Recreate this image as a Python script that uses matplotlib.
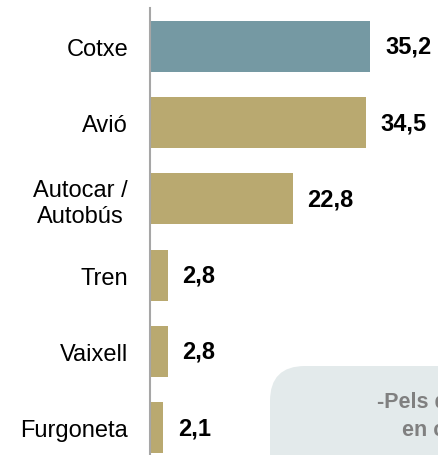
import matplotlib.pyplot as plt
from matplotlib.patches import FancyBboxPatch
from matplotlib.transforms import IdentityTransform

plt.rcParams['font.family'] = ['Liberation Sans', 'DejaVu Sans']

# dades
categories = ["Cotxe", "Avió", "Autocar /\nAutobús", "Tren", "Vaixell", "Furgoneta"]
values = [35.2, 34.5, 22.8, 2.8, 2.8, 2.1]
labels = ["35,2", "34,5", "22,8", "2,8", "2,8", "2,1"]
colors = ["#7599A3", "#B9A970", "#B9A970", "#B9A970", "#B9A970", "#B9A970"]
note_lines = ["-Pels desplaçaments", "en cotxe"]

W, H = 438, 456
fig = plt.figure(figsize=(W / 100, H / 100), dpi=100)
ax = fig.add_axes([150 / W, 0, 1 - 150 / W, 1 - 9 / H])
ax.patch.set_visible(False)

# caixa de nota (retallada a la vora), darrere del gràfic
box = FancyBboxPatch((270, -60), 260, 89 + 60,
                     boxstyle="round,pad=0,rounding_size=35",
                     transform=IdentityTransform(), facecolor="#E3EAEB",
                     edgecolor="none", zorder=-1)
fig.add_artist(box)
fig.text(377 / W, 48 / H, note_lines[0], fontsize=15.5, fontweight="bold",
         color="#808080", va="baseline", ha="left")
fig.text(402 / W, 20 / H, note_lines[1], fontsize=15.5, fontweight="bold",
         color="#808080", va="baseline", ha="left")

pos = list(range(len(categories)))
ax.barh(pos, values, height=0.67, color=colors, zorder=2)
ax.set_xlim(0, 288 / 6.25)
ax.set_ylim(5.36, -0.505)

for p, v, t in zip(pos, values, labels):
    ax.text(v + 2.4, p, t, va="center", ha="left", fontsize=17,
            fontweight="bold", color="#000000")

ax.set_yticks(pos)
ax.set_yticklabels(categories, fontsize=17, color="#000000", multialignment="center")
ax.tick_params(axis="y", length=0, pad=15.8)
ax.set_xticks([])
for s in ["top", "right", "bottom"]:
    ax.spines[s].set_visible(False)
ax.spines["left"].set_color("#A6A6A6")
ax.spines["left"].set_linewidth(1.5)

fig.savefig("out.png", dpi=100)
